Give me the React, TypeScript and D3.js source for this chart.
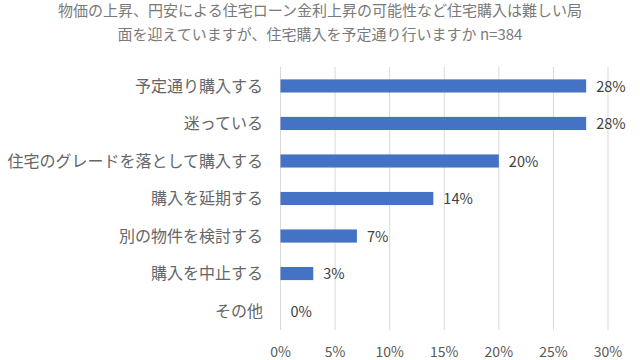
import React from "react";
import * as d3 from "d3";

const titleLines = [
  "物価の上昇、円安による住宅ローン金利上昇の可能性など住宅購入は難しい局",
  "面を迎えていますが、住宅購入を予定通り行いますか n=384",
];
const categories = [
  "予定通り購入する",
  "迷っている",
  "住宅のグレードを落として購入する",
  "購入を延期する",
  "別の物件を検討する",
  "購入を中止する",
  "その他",
];
const values = [28, 28, 20, 14, 7, 3, 0];
const ticks = [0, 5, 10, 15, 20, 25, 30];

const W = 640;
const H = 360;
const FONT = "'Noto Sans CJK JP', 'Noto Sans', sans-serif";

export default function App() {
  const x = d3.scaleLinear().domain([0, 30]).range([280.5, 608]);
  const y = d3.scaleBand<string>().domain(categories).range([67, 330]).paddingInner(0.65).paddingOuter(0.33);
  return (
    <svg width={W} height={H} style={{ position: "absolute", left: 0, top: 0 }} fontFamily={FONT}>
      <rect width={W} height={H} fill="#ffffff" />
      {titleLines.map((t, i) => (
        <text key={i} x={320} y={16 + i * 23.5} textAnchor="middle" fontSize={15} fill="#7a7a7a">
          {t}
        </text>
      ))}
      {ticks.map((t) => (
        <g key={t}>
          <line x1={x(t)} x2={x(t)} y1={67} y2={330} stroke="#d9d9d9" strokeWidth={1} />
          <text x={x(t)} y={357} textAnchor="middle" fontSize={14} fill="#595959">
            {t}%
          </text>
        </g>
      ))}
      {categories.map((c, i) => {
        const yy = y(c)!;
        const bw = y.bandwidth();
        return (
          <g key={c}>
            <text x={263} y={yy + bw / 2} dy="0.36em" textAnchor="end" fontSize={16} fill="#666666">
              {c}
            </text>
            {values[i] > 0 && (
              <rect x={x(0)} y={yy} width={x(values[i]) - x(0)} height={bw} fill="#4472C4" />
            )}
            <text x={x(values[i]) + 10} y={yy + bw / 2} dy="0.4em" fontSize={14.5} fill="#404040">
              {values[i]}%
            </text>
          </g>
        );
      })}
    </svg>
  );
}
